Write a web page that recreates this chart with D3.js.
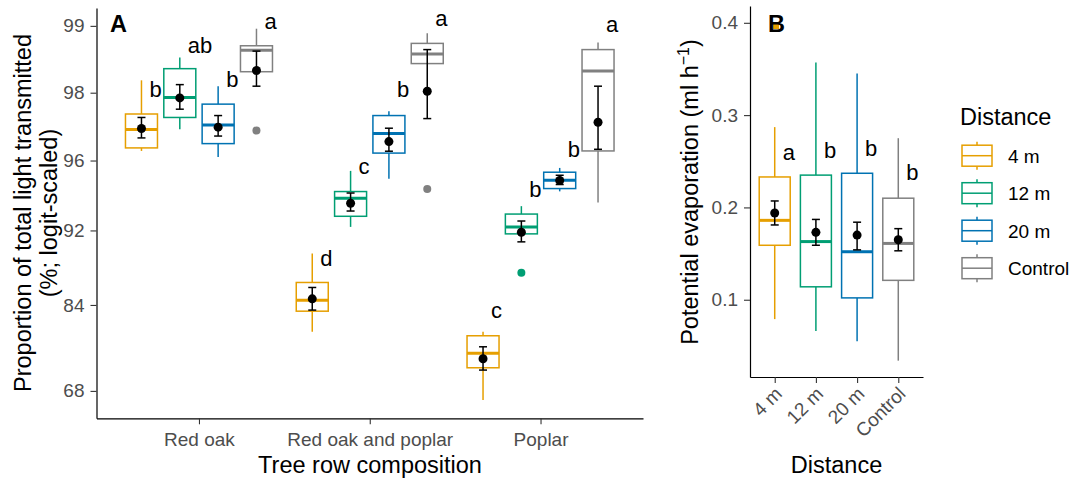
<!DOCTYPE html>
<html lang="en">
<head>
<meta charset="UTF-8">
<title>Light transmission and potential evaporation</title>
<script src="https://d3js.org/d3.v7.min.js"></script>
<style>
body { margin: 0; background: #fff; }
svg text { font-family: "Liberation Sans", Arial, sans-serif; }
</style>
</head>
<body>
<script>
// ---- data (panel A: % light transmitted, panel B: potential evaporation) ----
var compositions = ["Red oak", "Red oak and poplar", "Poplar"];
var distances = ["4 m", "12 m", "20 m", "Control"];

// rows = composition, cols = distance
var lightWhiskerLow  = [[96.37, 97.09, 96.14, 98.39], [79.83, 92.27, 95.20, 98.52], [65.88, 91.73, 94.55, 93.91]];
var lightQ1          = [[96.48, 97.42, 96.63, 98.39], [83.10, 93.03, 96.29, 98.52], [73.05, 91.73, 94.70, 96.37]];
var lightMedian      = [[97.08, 97.90, 97.21, 98.71], [84.67, 94.17, 96.96, 98.66], [75.93, 92.26, 95.12, 98.40]];
var lightQ3          = [[97.51, 98.44, 97.75, 98.77], [86.93, 94.54, 97.47, 98.80], [79.15, 93.18, 95.50, 98.72]];
var lightWhiskerHigh = [[98.24, 98.61, 98.13, 98.97], [90.03, 95.56, 97.58, 98.92], [79.83, 93.69, 95.69, 98.81]];
var lightMean        = [[97.11, 97.89, 97.15, 98.41], [84.85, 93.87, 96.70, 98.03], [74.88, 91.86, 95.11, 97.29]];
var lightSeLow       = [[96.82, 97.63, 96.88, 98.13], [83.26, 93.38, 96.36, 97.39], [72.57, 91.07, 94.91, 96.43]];
var lightSeHigh      = [[97.42, 98.16, 97.47, 98.70], [86.32, 94.46, 97.12, 98.72], [77.17, 92.70, 95.36, 98.13]];
var lightOutliers = [
    { comp: "Red oak", dist: "Control", value: 97.05 },
    { comp: "Red oak and poplar", dist: "Control", value: 94.68 },
    { comp: "Poplar", dist: "12 m", value: 88.04 }
];
var lightLetters = [["b", "ab", "b", "a"], ["d", "c", "b", "a"], ["c", "b", "b", "a"]];
var lightLetterY = [[97.90, 98.67, 98.11, 98.97], [88.76, 95.44, 97.90, 99.00], [82.01, 94.24, 96.14, 98.93]];
var lightTicks = [68, 84, 92, 96, 98, 99];

var evapWhiskerLow  = [0.079, 0.066, 0.055, 0.034];
var evapQ1          = [0.159, 0.114, 0.102, 0.121];
var evapMedian      = [0.186, 0.163, 0.152, 0.161];
var evapQ3          = [0.233, 0.235, 0.237, 0.210];
var evapWhiskerHigh = [0.287, 0.357, 0.345, 0.275];
var evapMean        = [0.194, 0.173, 0.170, 0.165];
var evapSeLow       = [0.181, 0.159, 0.154, 0.153];
var evapSeHigh      = [0.207, 0.187, 0.184, 0.177];
var evapLetters = ["a", "b", "b", "b"];
var evapLetterY = [0.251, 0.254, 0.256, 0.230];
var evapTicks = [0.1, 0.2, 0.3, 0.4];

var colors = ["#E69F00", "#009E73", "#0072B2", "#808080"];

// ---- setup ----
var svg = d3.select("body").append("svg")
    .attr("width", 1075)
    .attr("height", 479);

var color = d3.scaleOrdinal().domain(distances).range(colors);
var logit = function(p) { return Math.log(p / (100 - p)); };

function styleAxis(g) {
    g.select(".domain").attr("stroke", "#000").attr("stroke-width", 1.2);
    g.selectAll(".tick line").attr("stroke", "#333").attr("stroke-width", 1.1);
    g.selectAll(".tick text").attr("fill", "#4d4d4d").attr("font-size", 19);
}

function drawBox(g, cx, w, s, col) {
    // whiskers
    g.append("line").attr("x1", cx).attr("x2", cx).attr("y1", s.wh).attr("y2", s.q3)
        .attr("stroke", col).attr("stroke-width", 1.5);
    g.append("line").attr("x1", cx).attr("x2", cx).attr("y1", s.q1).attr("y2", s.wl)
        .attr("stroke", col).attr("stroke-width", 1.5);
    g.append("rect").attr("x", cx - w / 2).attr("y", s.q3).attr("width", w).attr("height", s.q1 - s.q3)
        .attr("fill", "#fff").attr("stroke", col).attr("stroke-width", 1.5);
    g.append("line").attr("x1", cx - w / 2).attr("x2", cx + w / 2).attr("y1", s.med).attr("y2", s.med)
        .attr("stroke", col).attr("stroke-width", 3);
}

function drawMean(g, cx, m, lo, hi) {
    g.append("line").attr("x1", cx).attr("x2", cx).attr("y1", lo).attr("y2", hi)
        .attr("stroke", "#000").attr("stroke-width", 1.5);
    [lo, hi].forEach(function(y) {
        g.append("line").attr("x1", cx - 4).attr("x2", cx + 4).attr("y1", y).attr("y2", y)
            .attr("stroke", "#000").attr("stroke-width", 1.5);
    });
    g.append("circle").attr("cx", cx).attr("cy", m).attr("r", 4.5).attr("fill", "#000");
}

// ---- panel A ----
var xA = d3.scalePoint().domain(compositions).range([96.5, 643]).padding(0.6);
var dodgeA = d3.scalePoint().domain(distances).range([-57.5, 57.5]);
var yLogit = d3.scaleLinear().domain([logit(61.43), logit(99.17)]).range([418.3, 8]);
var yA = function(v) { return yLogit(logit(v)); };

var gA = svg.append("g");

compositions.forEach(function(c, i) {
    distances.forEach(function(d, j) {
        var cx = xA(c) + dodgeA(d);
        drawBox(gA, cx, 32, {
            wl: yA(lightWhiskerLow[i][j]), q1: yA(lightQ1[i][j]), med: yA(lightMedian[i][j]),
            q3: yA(lightQ3[i][j]), wh: yA(lightWhiskerHigh[i][j])
        }, color(d));
    });
});

gA.selectAll("circle.outlier")
    .data(lightOutliers)
    .enter()
    .append("circle")
    .attr("class", "outlier")
    .attr("cx", function(d) { return xA(d.comp) + dodgeA(d.dist); })
    .attr("cy", function(d) { return yA(d.value); })
    .attr("r", 4)
    .attr("fill", function(d) { return color(d.dist); });

compositions.forEach(function(c, i) {
    distances.forEach(function(d, j) {
        var cx = xA(c) + dodgeA(d);
        drawMean(gA, cx, yA(lightMean[i][j]), yA(lightSeLow[i][j]), yA(lightSeHigh[i][j]));
        gA.append("text")
            .attr("x", cx + 8)
            .attr("y", yA(lightLetterY[i][j]))
            .attr("font-size", 22)
            .attr("fill", "#000")
            .text(lightLetters[i][j]);
    });
});

gA.append("g")
    .attr("transform", "translate(96.5,0)")
    .call(d3.axisLeft(yLogit).tickValues(lightTicks.map(logit))
        .tickFormat(function(d, i) { return lightTicks[i]; })
        .tickSize(6).tickPadding(6).tickSizeOuter(0))
    .call(styleAxis);

gA.append("g")
    .attr("transform", "translate(0,418.3)")
    .call(d3.axisBottom(xA).tickSize(6).tickPadding(8).tickSizeOuter(0))
    .call(styleAxis);

gA.append("text")
    .attr("x", 110).attr("y", 31.7)
    .attr("font-size", 23.5).attr("font-weight", "bold")
    .text("A");

gA.append("text")
    .attr("x", 370).attr("y", 473)
    .attr("text-anchor", "middle").attr("font-size", 23.5)
    .text("Tree row composition");

gA.append("text")
    .attr("transform", "translate(31,213) rotate(-90)")
    .attr("text-anchor", "middle").attr("font-size", 23.5)
    .text("Proportion of total light transmitted");
gA.append("text")
    .attr("transform", "translate(57,213) rotate(-90)")
    .attr("text-anchor", "middle").attr("font-size", 23.5)
    .text("(%; logit-scaled)");

// ---- panel B ----
var xB = d3.scalePoint().domain(distances).range([750, 923]).padding(0.6);
var yB = d3.scaleLinear().domain([0.0163, 0.4182]).range([377, 6]);

var gB = svg.append("g");

// small orange patch visible inside the "B" tag
gB.append("rect").attr("x", 773).attr("y", 23).attr("width", 6).attr("height", 6).attr("fill", "#E69F00");

distances.forEach(function(d, j) {
    drawBox(gB, xB(d), 31, {
        wl: yB(evapWhiskerLow[j]), q1: yB(evapQ1[j]), med: yB(evapMedian[j]),
        q3: yB(evapQ3[j]), wh: yB(evapWhiskerHigh[j])
    }, color(d));
});
distances.forEach(function(d, j) {
    drawMean(gB, xB(d), yB(evapMean[j]), yB(evapSeLow[j]), yB(evapSeHigh[j]));
    gB.append("text")
        .attr("x", xB(d) + 8)
        .attr("y", yB(evapLetterY[j]))
        .attr("font-size", 22)
        .text(evapLetters[j]);
});

gB.append("g")
    .attr("transform", "translate(750,0)")
    .call(d3.axisLeft(yB).tickValues(evapTicks).tickFormat(d3.format(".1f"))
        .tickSize(6).tickPadding(6).tickSizeOuter(0))
    .call(styleAxis);

var axB = gB.append("g")
    .attr("transform", "translate(0,377)")
    .call(d3.axisBottom(xB).tickSize(6).tickSizeOuter(0))
    .call(styleAxis);
axB.selectAll(".tick text")
    .attr("text-anchor", "end")
    .attr("dy", null)
    .attr("y", null)
    .attr("transform", "translate(8,18) rotate(-45)");

gB.append("text")
    .attr("x", 768).attr("y", 31.7)
    .attr("font-size", 23.5).attr("font-weight", "bold")
    .text("B");

gB.append("text")
    .attr("x", xB.range()[0] + (xB.range()[1] - xB.range()[0]) / 2).attr("y", 473)
    .attr("text-anchor", "middle").attr("font-size", 23.5)
    .text("Distance");

var yTitleB = gB.append("text")
    .attr("transform", "translate(698,192) rotate(-90)")
    .attr("text-anchor", "middle").attr("font-size", 23.5);
yTitleB.append("tspan").text("Potential evaporation (ml h");
yTitleB.append("tspan").attr("dy", -9).attr("font-size", 16).text("\u22121");
yTitleB.append("tspan").attr("dy", 9).text(")");

// ---- legend ----
var legend = svg.append("g").attr("transform", "translate(960,0)");
legend.append("text").attr("x", 0).attr("y", 125).attr("font-size", 23.5).text("Distance");

var keys = legend.selectAll("g.key")
    .data(distances)
    .enter()
    .append("g")
    .attr("class", "key")
    .attr("transform", function(d, i) { return "translate(0," + (155.7 + i * 37.5) + ")"; });

keys.each(function(d) {
    var k = d3.select(this);
    drawBox(k, 17, 30, { wl: 14, q1: 10.5, med: 0, q3: -10.5, wh: -14 }, color(d));
});
keys.selectAll("line").filter(function(d, i) { return i === 2; }).attr("stroke-width", 1.5);
keys.append("text")
    .attr("x", 48).attr("y", 7)
    .attr("font-size", 19)
    .text(function(d) { return d; });
</script>
</body>
</html>
